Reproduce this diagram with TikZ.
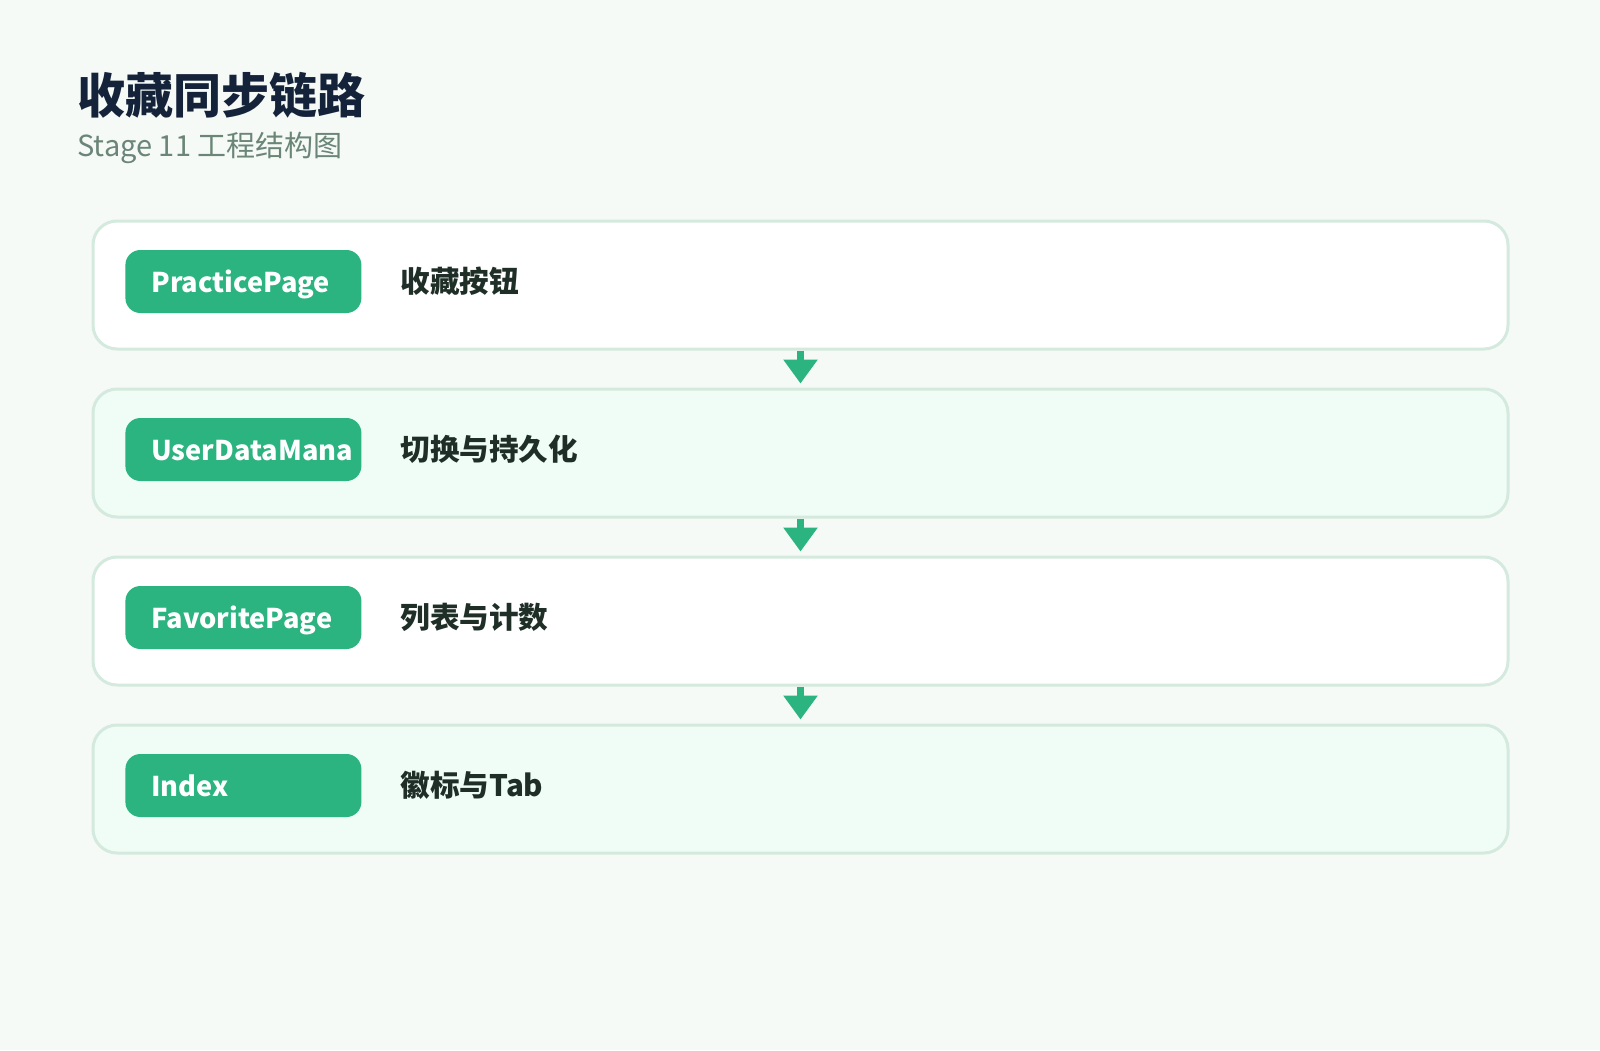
\documentclass[tikz,border=0pt]{standalone}
\usepackage{fontspec}
\setmainfont{Noto Sans CJK SC}
\usetikzlibrary{arrows.meta}
\definecolor{bgmint}{HTML}{F5FAF7}
\definecolor{cardline}{HTML}{D5EADE}
\definecolor{cardmint}{HTML}{F0FDF7}
\definecolor{pillgreen}{HTML}{2BB380}
\definecolor{titleink}{HTML}{14233A}
\definecolor{subink}{HTML}{6B8577}
\definecolor{labelink}{HTML}{1F2F28}

\begin{document}
\begin{tikzpicture}[x=0.5pt,y=-0.5pt]
\tikzset{
	card/.style={draw=cardline,
		line width=1.5pt,
		rounded corners=12pt,
		minimum width=707.5pt,
		minimum height=64pt,
		inner sep=0pt
	},
	pill/.style={fill=pillgreen,
		rounded corners=7.5pt,
		minimum width=118pt,
		minimum height=31.5pt,
		inner xsep=13pt, inner ysep=0pt,
		text=white, font=\bfseries\fontsize{13.6pt}{16pt}\selectfont,
		text height=12pt, text depth=1.5pt
	},
	steplabel/.style={anchor=base west, text=labelink,
		font=\bfseries\fontsize{14.8pt}{17pt}\selectfont, inner sep=0pt},
	flow/.style={draw=pillgreen, line width=3.5pt,
		-{Triangle[width=16.5pt,length=12pt]}, shorten >=2pt}
}

\fill[bgmint] (0,0) rectangle (1600,1050);
\node[anchor=base west, inner sep=0pt, text=titleink, font=\bfseries\fontsize{24pt}{28pt}\selectfont] (TITLE) at (77,113) {收藏同步链路};
\node[anchor=base west, inner sep=0pt, text=subink, font=\fontsize{14.5pt}{17pt}\selectfont] (SUBTITLE) at (77,156) {Stage 11 工程结构图};

\foreach \name/\what/\shade [count=\i] in {PracticePage/收藏按钮/white, UserDataMana/切换与持久化/cardmint, FavoritePage/列表与计数/white, Index/徽标与Tab/cardmint}{
	\node[card, fill=\shade] (card\i) at (800.5,{285+168*(\i-1)}) {};
	\node[pill, anchor=west] (pill\i) at (125,{281.5+168*(\i-1)}) {\makebox[92pt][l]{\name}};
	\node[steplabel] (label\i) at (400,{292+168*(\i-1)}) {\what};
}

\foreach \i/\j in {1/2, 2/3, 3/4}
	\draw[flow] (card\i.south) -- (card\j.north);
\end{tikzpicture}
\end{document}
